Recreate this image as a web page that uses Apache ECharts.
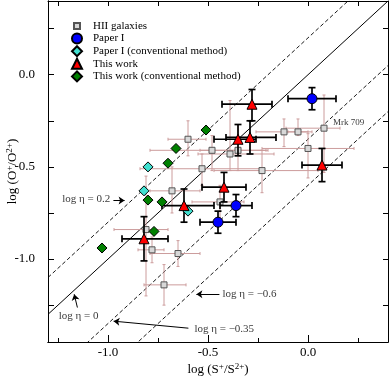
<!DOCTYPE html>
<html>
<head>
<meta charset="utf-8">
<script src="https://cdn.jsdelivr.net/npm/echarts@6/dist/echarts.min.js"></script>
<style>
html, body { margin: 0; padding: 0; background: #fff; }
#chart { width: 390px; height: 379px; }
</style>
</head>
<body>
<div id="chart"></div>
<script>
// axis ranges and ticks
const xRange = [-1.3, 0.4];
const yRange = [-1.45, 0.4];
const xMajor = [-1.0, -0.5, 0.0];
const xMinor = [-1.25, -0.75, -0.25, 0.25];
const yMajor = [-1.0, -0.5, 0.0];
const yMinor = [-1.25, -0.75, -0.25, 0.25];

// HII galaxies (with asymmetric error bars)
const hiiX   = [-0.60, -0.48, -0.39, -0.35, -0.53, -0.68, -0.44, -0.23, -0.12, -0.05, 0.00, 0.08, -0.81, -0.78, -0.65, -0.72];
const hiiY   = [-0.35, -0.41, -0.43, -0.41, -0.51, -0.63, -0.69, -0.52, -0.31, -0.31, -0.40, -0.29, -0.84, -0.95, -0.97, -1.14];
const hiiXLo = [-0.70, -0.79, -0.55, -0.54, -0.84, -0.79, -0.58, -0.47, -0.26, -0.10, -0.23, -0.11, -0.97, -0.85, -0.79, -0.82];
const hiiXHi = [-0.51, -0.21, -0.17, -0.20, -0.24, -0.54, -0.32, 0.05, 0.02, 0.00, 0.23, 0.16, -0.70, -0.72, -0.54, -0.61];
const hiiYLo = [-0.44, -0.52, -0.52, -0.52, -0.60, -0.75, -0.78, -0.64, -0.39, -0.33, -0.56, -0.53, -1.20, -1.02, -1.04, -1.25];
const hiiYHi = [-0.25, -0.33, -0.14, -0.27, -0.43, -0.50, -0.60, -0.41, -0.24, -0.24, -0.32, -0.11, -0.55, -0.88, -0.90, -1.03];

// Paper I
const p1X   = [0.02, -0.36, -0.45];
const p1Y   = [-0.13, -0.71, -0.80];
const p1XLo = [-0.10, -0.44, -0.54];
const p1XHi = [0.14, -0.28, -0.36];
const p1YLo = [-0.19, -0.77, -0.86];
const p1YHi = [-0.07, -0.65, -0.74];

// Paper I (conventional method)
const p1cX = [-0.80, -0.82, -0.60];
const p1cY = [-0.50, -0.63, -0.74];

// This work
const twX   = [-0.28, -0.35, -0.29, -0.42, -0.62, -0.82, 0.07];
const twY   = [-0.16, -0.35, -0.34, -0.61, -0.71, -0.89, -0.49];
const twXLo = [-0.43, -0.47, -0.41, -0.53, -0.73, -0.93, -0.03];
const twXHi = [-0.18, -0.26, -0.16, -0.31, -0.47, -0.70, 0.17];
const twYLo = [-0.25, -0.44, -0.43, -0.69, -0.80, -1.01, -0.58];
const twYHi = [-0.08, -0.27, -0.25, -0.53, -0.62, -0.77, -0.40];

// This work (conventional method)
const twcX = [-0.51, -0.66, -0.70, -0.80, -0.73, -0.77, -1.03];
const twcY = [-0.30, -0.40, -0.48, -0.68, -0.69, -0.85, -0.94];

// log eta reference lines: log(O+/O2+) = log(S+/S2+) + log eta
const etaValues = [0.2, 0, -0.35, -0.6];

// annotations
const noteText = ['log \u03b7 = 0.2', 'log \u03b7 = 0', 'log \u03b7 = \u22120.6', 'log \u03b7 = \u22120.35', 'Mrk 709'];
const noteX = [-1.229, -1.246, -0.428, -0.568, 0.125];
const noteY = [-0.677, -1.310, -1.191, -1.381, -0.26];
const noteSize = [11, 11, 11, 11, 9];
const arrowFrom = [[-0.973, -0.682], [-1.153, -1.263], [-0.443, -1.191], [-0.598, -1.375]];
const arrowTo   = [[-0.917, -0.682], [-1.169, -1.191], [-0.558, -1.191], [-0.972, -1.337]];

const FONT = 'Liberation Serif';
const chart = echarts.init(document.getElementById('chart'));

// error bars drawn through the axes
function errorBars(x, y, xlo, xhi, ylo, yhi, color, width, cap, z) {
  return {
    type: 'custom',
    silent: true,
    z: z,
    data: x.map((v, i) => [v, y[i], xlo[i], xhi[i], ylo[i], yhi[i]]),
    encode: { x: [0, 2, 3], y: [1, 4, 5] },
    renderItem(params, api) {
      const l = api.coord([api.value(2), api.value(1)]);
      const r = api.coord([api.value(3), api.value(1)]);
      const b = api.coord([api.value(0), api.value(4)]);
      const t = api.coord([api.value(0), api.value(5)]);
      const st = { stroke: color, lineWidth: width };
      const h = cap / 2;
      const seg = (x1, y1, x2, y2) => ({ type: 'line', shape: { x1, y1, x2, y2 }, style: st });
      return {
        type: 'group',
        children: [
          seg(l[0], l[1], r[0], r[1]),
          seg(l[0], l[1] - h, l[0], l[1] + h),
          seg(r[0], r[1] - h, r[0], r[1] + h),
          seg(b[0], b[1], t[0], t[1]),
          seg(b[0] - h, b[1], b[0] + h, b[1]),
          seg(t[0] - h, t[1], t[0] + h, t[1])
        ]
      };
    }
  };
}

const etaSeries = etaValues.map(eta => ({
  type: 'line',
  silent: true,
  symbol: 'none',
  z: 1,
  lineStyle: { color: '#000', width: eta === 0 ? 1 : 0.9, type: eta === 0 ? 'solid' : [4, 2.5] },
  data: [[xRange[0], xRange[0] + eta], [xRange[1], xRange[1] + eta]]
}));

const axisBase = {
  type: 'value',
  axisLine: { onZero: false, lineStyle: { color: '#000', width: 1 } },
  splitLine: { show: false }
};

const option = {
  animation: false,
  backgroundColor: '#fff',
  grid: { left: 48, right: 2, top: 1, bottom: 37, containLabel: false, outerBoundsMode: 'none' },
  legend: {
    left: 66,
    top: 15,
    orient: 'vertical',
    itemWidth: 10,
    itemHeight: 10,
    itemGap: 0.6,
    textStyle: { fontFamily: FONT, fontSize: 11, color: '#000', lineHeight: 11.5, padding: [0, 0, 0, 6] },
    data: [
      { name: 'HII galaxies', icon: 'path://M0,0M10,10M2,2L8,2L8,8L2,8Z' },
      { name: 'Paper I', icon: 'circle' },
      { name: 'Paper I (conventional method)', icon: 'diamond' },
      { name: 'This work', icon: 'triangle' },
      { name: 'This work (conventional method)', icon: 'diamond' }
    ]
  },
  xAxis: [
    Object.assign({}, axisBase, {
      min: xRange[0], max: xRange[1], position: 'bottom',
      name: 'log (S{sup|+}/S{sup|2+})', nameLocation: 'middle', nameGap: 20, nameMoveOverlap: false,
      nameTextStyle: {
        fontFamily: FONT, fontSize: 13, color: '#000', verticalAlign: 'top',
        rich: { sup: { fontFamily: FONT, fontSize: 9, verticalAlign: 'top', padding: [0, 0, 6, 0] } }
      },
      axisTick: { inside: true, length: 7, customValues: xMajor, lineStyle: { color: '#000' } },
      axisLabel: { customValues: xMajor, margin: 4, fontFamily: FONT, fontSize: 13, color: '#000', formatter: v => v.toFixed(1) }
    }),
    Object.assign({}, axisBase, {
      min: xRange[0], max: xRange[1], position: 'bottom',
      axisTick: { inside: true, length: 4, customValues: xMinor, lineStyle: { color: '#000' } },
      axisLabel: { show: false }
    }),
    Object.assign({}, axisBase, {
      min: xRange[0], max: xRange[1], position: 'top',
      axisTick: { inside: true, length: 5, customValues: xMajor.concat(xMinor), lineStyle: { color: '#000' } },
      axisLabel: { show: false }
    })
  ],
  yAxis: [
    Object.assign({}, axisBase, {
      min: yRange[0], max: yRange[1], position: 'left',
      name: 'log (O{sup|+}/O{sup|2+})', nameLocation: 'middle', nameGap: 28, nameMoveOverlap: false,
      nameTextStyle: {
        fontFamily: FONT, fontSize: 13, color: '#000',
        rich: { sup: { fontFamily: FONT, fontSize: 9, verticalAlign: 'top', padding: [0, 0, 6, 0] } }
      },
      axisTick: { inside: true, length: 6, customValues: yMajor, lineStyle: { color: '#000' } },
      axisLabel: { customValues: yMajor, margin: 13, fontFamily: FONT, fontSize: 13, color: '#000', formatter: v => v.toFixed(1) }
    }),
    Object.assign({}, axisBase, {
      min: yRange[0], max: yRange[1], position: 'left',
      axisTick: { inside: true, length: 6, customValues: yMinor, lineStyle: { color: '#000' } },
      axisLabel: { show: false }
    }),
    Object.assign({}, axisBase, {
      min: yRange[0], max: yRange[1], position: 'right',
      axisTick: { inside: true, length: 5, customValues: yMajor.concat(yMinor), lineStyle: { color: '#000' } },
      axisLabel: { show: false }
    })
  ],
  series: [
    ...etaSeries,
    errorBars(hiiX, hiiY, hiiXLo, hiiXHi, hiiYLo, hiiYHi, '#cc9c9c', 1, 3, 2),
    errorBars(p1X, p1Y, p1XLo, p1XHi, p1YLo, p1YHi, '#000', 1.7, 7, 4),
    errorBars(twX, twY, twXLo, twXHi, twYLo, twYHi, '#000', 1.7, 7, 4),
    {
      name: 'HII galaxies', type: 'scatter', z: 3, symbol: 'rect', symbolSize: 6,
      itemStyle: { color: '#d8d8d8', borderColor: '#555', borderWidth: 1, opacity: 1 },
      data: hiiX.map((v, i) => [v, hiiY[i]])
    },
    {
      name: 'Paper I', type: 'scatter', z: 5, symbol: 'circle', symbolSize: 10,
      itemStyle: { color: '#0000ff', borderColor: '#000', borderWidth: 1, opacity: 1 },
      data: p1X.map((v, i) => [v, p1Y[i]])
    },
    {
      name: 'Paper I (conventional method)', type: 'scatter', z: 5, symbol: 'diamond', symbolSize: 10,
      itemStyle: { color: '#40e0d0', borderColor: '#000', borderWidth: 1, opacity: 1 },
      data: p1cX.map((v, i) => [v, p1cY[i]])
    },
    {
      name: 'This work', type: 'scatter', z: 5, symbol: 'triangle', symbolSize: 10,
      itemStyle: { color: '#ff0000', borderColor: '#000', borderWidth: 1, opacity: 1 },
      data: twX.map((v, i) => [v, twY[i]])
    },
    {
      name: 'This work (conventional method)', type: 'scatter', z: 5, symbol: 'diamond', symbolSize: 10,
      itemStyle: { color: '#008000', borderColor: '#000', borderWidth: 1, opacity: 1 },
      data: twcX.map((v, i) => [v, twcY[i]])
    },
    {
      type: 'lines', coordinateSystem: 'cartesian2d', silent: true, z: 6,
      symbol: ['none', 'arrow'], symbolSize: 6,
      lineStyle: { color: '#000', width: 1, opacity: 1 },
      data: arrowFrom.map((p, i) => ({ coords: [p, arrowTo[i]] }))
    },
    {
      type: 'scatter', silent: true, z: 6, symbolSize: 0,
      data: noteText.map((t, i) => ({
        name: t, value: [noteX[i], noteY[i]],
        label: { fontSize: noteSize[i] }
      })),
      label: {
        show: true, position: 'right', distance: 0, formatter: '{b}',
        fontFamily: FONT, fontSize: 11, color: '#000'
      }
    }
  ]
};

chart.setOption(option);
</script>
</body>
</html>
